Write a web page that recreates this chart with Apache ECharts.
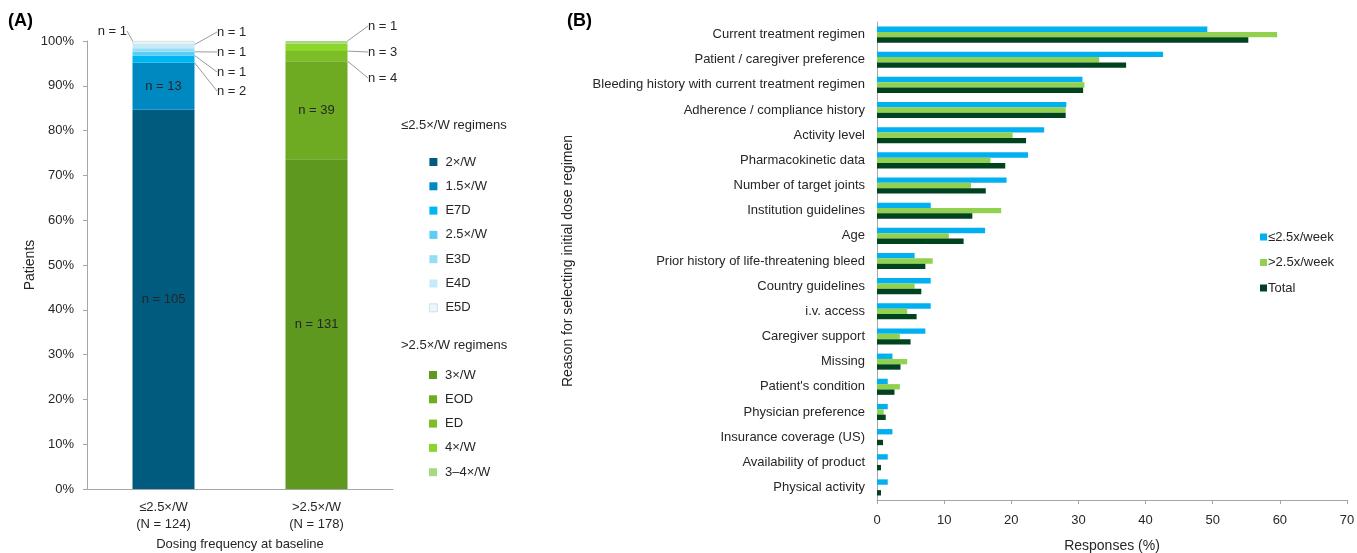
<!DOCTYPE html>
<html>
<head>
<meta charset="utf-8">
<title>Dosing frequency and reasons for initial dose regimen</title>
<script src="https://cdn.jsdelivr.net/npm/echarts@6/dist/echarts.min.js"></script>
<style>
  html, body { margin: 0; padding: 0; background: #ffffff; }
  #chart { width: 1357px; height: 553px; }
</style>
</head>
<body>
<div id="chart"></div>
<script>
// ---------- Panel A: regimens by dosing frequency (patient counts) ----------
const groupLabels = ['≤2.5×/W', '>2.5×/W'];
const lowNames = ['2×/W', '1.5×/W', 'E7D', '2.5×/W', 'E3D', 'E4D', 'E5D'];
const lowCounts = [105, 13, 2, 1, 1, 1, 1];
const highNames = ['3×/W', 'EOD', 'ED', '4×/W', '3–4×/W'];
const highCounts = [131, 39, 4, 3, 1];
const percentTicks = [0, 10, 20, 30, 40, 50, 60, 70, 80, 90, 100];

// ---------- Panel B: reasons for selecting the initial dose regimen (%) ----------
const reasons = [
  'Current treatment regimen',
  'Patient / caregiver preference',
  'Bleeding history with current treatment regimen',
  'Adherence / compliance history',
  'Activity level',
  'Pharmacokinetic data',
  'Number of target joints',
  'Institution guidelines',
  'Age',
  'Prior history of life-threatening bleed',
  'Country guidelines',
  'i.v. access',
  'Caregiver support',
  'Missing',
  "Patient's condition",
  'Physician preference',
  'Insurance coverage (US)',
  'Availability of product',
  'Physical activity'
];
const lowWeekly = [49.2, 42.6, 30.6, 28.2, 24.9, 22.5, 19.3, 8.0, 16.1, 5.6, 8.0, 8.0, 7.2, 2.3, 1.6, 1.6, 2.3, 1.6, 1.6];
const highWeekly = [59.6, 33.1, 30.9, 28.1, 20.2, 16.9, 14.0, 18.5, 10.7, 8.3, 5.6, 4.5, 3.4, 4.5, 3.4, 1.0, 0, 0, 0];
const totalWeekly = [55.3, 37.1, 30.7, 28.1, 22.2, 19.1, 16.2, 14.2, 12.9, 7.2, 6.6, 5.9, 5.0, 3.5, 2.6, 1.3, 0.9, 0.6, 0.6];
const responseTicks = [0, 10, 20, 30, 40, 50, 60, 70];
const reasonSeriesNames = ['≤2.5x/week', '>2.5x/week', 'Total'];

// ---------- styling ----------
const FONT = '"Liberation Sans", Arial, sans-serif';
const TEXT = '#262626';
const AXIS = '#a6a6a6';
const lowColors = ['#005b7f', '#0089c1', '#00b6f0', '#5ccdf4', '#94ddf7', '#c3ebfa', '#eaf7fc'];
const highColors = ['#5e981e', '#6eaa22', '#7dbd26', '#8dd42c', '#a6da82'];
const reasonColors = ['#00b0f0', '#92d050', '#00431f'];

// where the small-segment labels sit, with leader lines back to the bar
const callouts = {
  'E7D':    { x: 217, y: 91, align: 'left' },
  '2.5×/W': { x: 217, y: 72, align: 'left' },
  'E3D':    { x: 217, y: 52, align: 'left' },
  'E4D':    { x: 217, y: 32, align: 'left' },
  'E5D':    { x: 127, y: 31, align: 'right' },
  'ED':     { x: 368, y: 78, align: 'left' },
  '4×/W':   { x: 368, y: 52, align: 'left' },
  '3–4×/W': { x: 368, y: 26, align: 'left' }
};

const lowTotal = lowCounts.reduce((a, b) => a + b, 0);
const highTotal = highCounts.reduce((a, b) => a + b, 0);
const categoryLabels = [
  groupLabels[0] + '\n(N = ' + lowTotal + ')',
  groupLabels[1] + '\n(N = ' + highTotal + ')'
];

function stackSeries(name, count, total, groupIndex, color) {
  const pct = count / total * 100;
  const data = groupIndex === 0 ? [pct, '-'] : ['-', pct];
  const c = callouts[name];
  const s = {
    name: name,
    type: 'bar',
    stack: 'regimen',
    xAxisIndex: 0,
    yAxisIndex: 0,
    barWidth: 62,
    data: data,
    itemStyle: { color: color },
    emphasis: { disabled: true },
    label: {
      show: true,
      position: c ? 'right' : 'inside',
      formatter: 'n = ' + count,
      color: TEXT,
      fontFamily: FONT,
      fontSize: 13
    }
  };
  if (name === 'E5D') {
    s.itemStyle.borderColor = '#cdd9de';
    s.itemStyle.borderWidth = 0.8;
  }
  if (c) {
    s.labelLayout = { x: c.x, y: c.y, align: c.align, verticalAlign: 'middle' };
    s.labelLine = { show: true, lineStyle: { color: '#9a9a9a', width: 1 } };
  }
  return s;
}

const series = [];
lowNames.forEach((n, i) => series.push(stackSeries(n, lowCounts[i], lowTotal, 0, lowColors[i])));
highNames.forEach((n, i) => series.push(stackSeries(n, highCounts[i], highTotal, 1, highColors[i])));

[lowWeekly, highWeekly, totalWeekly].forEach((vals, i) => {
  series.push({
    name: reasonSeriesNames[i],
    type: 'bar',
    xAxisIndex: 1,
    yAxisIndex: 1,
    data: vals,
    barGap: '0%',
    barCategoryGap: '36%',
    itemStyle: { color: reasonColors[i] },
    emphasis: { disabled: true }
  });
});

const legendText = { color: TEXT, fontFamily: FONT, fontSize: 13, lineHeight: 14, padding: [0, 0, 0, 3] };

const option = {
  animation: false,
  backgroundColor: '#ffffff',
  textStyle: { fontFamily: FONT },
  graphic: [
    { type: 'text', left: 8, top: 12, style: { text: '(A)', font: 'bold 18px ' + FONT, fill: '#000' } },
    { type: 'text', left: 567, top: 12, style: { text: '(B)', font: 'bold 18px ' + FONT, fill: '#000' } },
    { type: 'text', left: 401, top: 119, style: { text: '≤2.5×/W regimens', font: '13px ' + FONT, fill: TEXT } },
    { type: 'text', left: 401, top: 339, style: { text: '>2.5×/W regimens', font: '13px ' + FONT, fill: TEXT } }
  ],
  legend: [
    {
      data: lowNames.map((n, i) => ({ name: n, itemStyle: i === 6 ? { borderColor: '#cdd9de', borderWidth: 0.8 } : {} })),
      orient: 'vertical', left: 424, top: 150,
      itemWidth: 8, itemHeight: 8, itemGap: 10.3, icon: 'rect',
      selectedMode: false, textStyle: legendText
    },
    {
      data: highNames,
      orient: 'vertical', left: 424, top: 363,
      itemWidth: 8, itemHeight: 8, itemGap: 10.3, icon: 'rect',
      selectedMode: false, textStyle: legendText
    },
    {
      data: reasonSeriesNames,
      orient: 'vertical', left: 1255, top: 225,
      itemWidth: 7, itemHeight: 7, itemGap: 11.5, icon: 'rect',
      selectedMode: false,
      textStyle: { color: TEXT, fontFamily: FONT, fontSize: 13, lineHeight: 14, padding: [0, 0, 0, -4] }
    }
  ],
  grid: [
    { left: 87, top: 41, width: 306, bottom: 64, outerBoundsMode: 'none' },
    { left: 877, top: 22, right: 10, bottom: 53, outerBoundsMode: 'none' }
  ],
  xAxis: [
    {
      gridIndex: 0,
      type: 'category',
      data: categoryLabels,
      axisLine: { lineStyle: { color: AXIS } },
      axisTick: { show: false },
      axisLabel: { color: TEXT, fontFamily: FONT, fontSize: 13, lineHeight: 17, margin: 10 },
      name: 'Dosing frequency at baseline',
      nameLocation: 'middle',
      nameGap: 49,
      nameTextStyle: { color: TEXT, fontFamily: FONT, fontSize: 13 }
    },
    {
      gridIndex: 1,
      type: 'value',
      min: responseTicks[0],
      max: responseTicks[responseTicks.length - 1],
      interval: responseTicks[1] - responseTicks[0],
      axisLine: { show: true, lineStyle: { color: AXIS } },
      axisTick: { show: true, length: 4, lineStyle: { color: AXIS } },
      splitLine: { show: false },
      axisLabel: { color: TEXT, fontFamily: FONT, fontSize: 13, margin: 14 },
      name: 'Responses (%)',
      nameLocation: 'middle',
      nameGap: 39,
      nameTextStyle: { color: TEXT, fontFamily: FONT, fontSize: 14 }
    }
  ],
  yAxis: [
    {
      gridIndex: 0,
      type: 'value',
      min: percentTicks[0],
      max: percentTicks[percentTicks.length - 1],
      interval: percentTicks[1] - percentTicks[0],
      axisLine: { show: true, lineStyle: { color: AXIS } },
      axisTick: { show: true, length: 4, lineStyle: { color: AXIS } },
      splitLine: { show: false },
      axisLabel: { color: TEXT, fontFamily: FONT, fontSize: 13, margin: 13, formatter: '{value}%' },
      name: 'Patients',
      nameLocation: 'middle',
      nameGap: 48,
      nameTextStyle: { color: TEXT, fontFamily: FONT, fontSize: 14 }
    },
    {
      gridIndex: 1,
      type: 'category',
      data: reasons,
      inverse: true,
      axisLine: { show: true, lineStyle: { color: AXIS } },
      axisTick: { show: false },
      axisLabel: { color: TEXT, fontFamily: FONT, fontSize: 13, margin: 12 },
      name: 'Reason for selecting initial dose regimen',
      nameLocation: 'middle',
      nameGap: 302,
      nameTextStyle: { color: TEXT, fontFamily: FONT, fontSize: 14 }
    }
  ],
  series: series
};

const chart = echarts.init(document.getElementById('chart'), null, { renderer: 'canvas' });
chart.setOption(option);
</script>
</body>
</html>
